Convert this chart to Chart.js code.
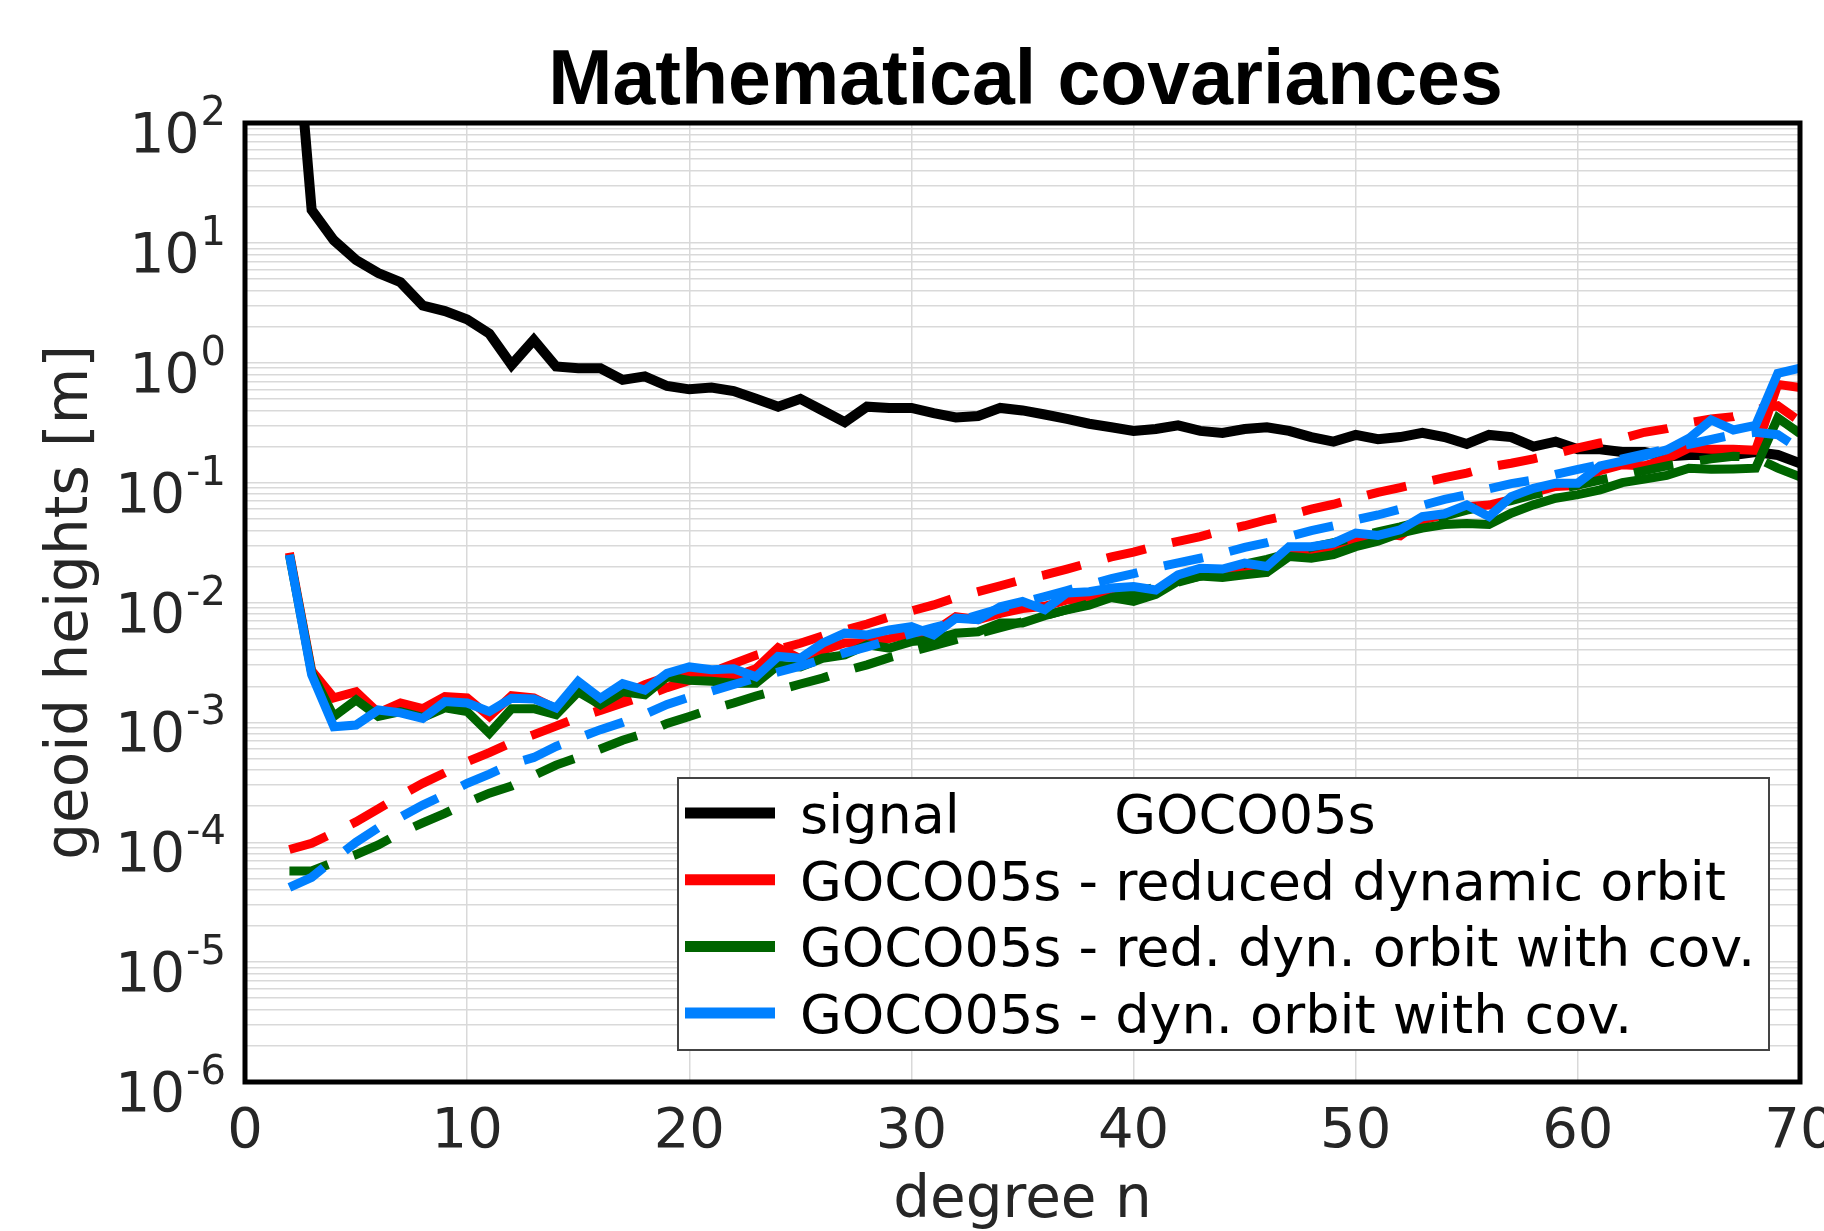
<!DOCTYPE html>
<html>
<head>
<meta charset="utf-8">
<title>Mathematical covariances</title>
<script src="https://cdn.jsdelivr.net/npm/chart.js@4/dist/chart.umd.min.js"></script>
<style>
  html, body { margin: 0; padding: 0; background: #fff; }
  canvas { display: block; }
</style>
</head>
<body>
<canvas id="covChart" width="1824" height="1231"></canvas>
<script>
// degree n = 2..70
const degrees = [2, 3, 4, 5, 6, 7, 8, 9, 10, 11, 12, 13, 14, 15, 16, 17, 18, 19, 20,
  21, 22, 23, 24, 25, 26, 27, 28, 29, 30, 31, 32, 33, 34, 35, 36, 37, 38, 39, 40,
  41, 42, 43, 44, 45, 46, 47, 48, 49, 50, 51, 52, 53, 54, 55, 56, 57, 58, 59, 60,
  61, 62, 63, 64, 65, 66, 67, 68, 69, 70];

const signal = [3000, 18.8, 10.5, 7.2, 5.6, 4.7, 3.0, 2.7, 2.3, 1.75, 0.96, 1.55, 0.93, 0.9, 0.9, 0.72, 0.77, 0.64, 0.60,
  0.62, 0.58, 0.50, 0.43, 0.50, 0.40, 0.32, 0.43, 0.42, 0.42,
  0.38, 0.35, 0.36, 0.42, 0.40, 0.37, 0.34, 0.31, 0.29, 0.27,
  0.28, 0.30, 0.27, 0.26, 0.28, 0.29, 0.27, 0.24, 0.22, 0.25,
  0.23, 0.24, 0.26, 0.24, 0.21, 0.25, 0.24, 0.20, 0.22, 0.19,
  0.19, 0.18, 0.18, 0.165, 0.17, 0.17, 0.17, 0.18, 0.17, 0.145];

const redDyn = [0.026, 0.0027, 0.0016, 0.0018, 0.0012, 0.00145, 0.0013, 0.00164, 0.0016, 0.00112, 0.00167, 0.0016, 0.0013, 0.0020, 0.00136, 0.0017, 0.00206, 0.0024, 0.0026,
  0.0025, 0.0024, 0.0028, 0.0042, 0.0034, 0.0040, 0.0046, 0.0046, 0.0050, 0.0055,
  0.0057, 0.0076, 0.0072, 0.0081, 0.0089, 0.0093, 0.0105, 0.011, 0.012, 0.0123,
  0.0126, 0.0155, 0.017, 0.018, 0.0186, 0.018, 0.0266, 0.0275, 0.028, 0.032,
  0.038, 0.036, 0.049, 0.054, 0.063, 0.065, 0.072, 0.083, 0.093, 0.095,
  0.126, 0.141, 0.138, 0.158, 0.195, 0.19, 0.19, 0.186, 0.66, 0.62];

const redDynCov = [0.025, 0.0026, 0.00112, 0.00154, 0.00112, 0.00123, 0.0011, 0.00132, 0.00123, 0.00081, 0.0013, 0.0013, 0.00116, 0.0018, 0.0014, 0.0018, 0.0017, 0.0024, 0.00224,
  0.0022, 0.00212, 0.00212, 0.0030, 0.0029, 0.00343, 0.00366, 0.00443, 0.00417, 0.00472,
  0.0049, 0.00555, 0.0057, 0.00676, 0.00676, 0.00776, 0.0087, 0.0095, 0.011, 0.0102,
  0.0117, 0.0151, 0.0166, 0.0162, 0.017, 0.0178, 0.0242, 0.0234, 0.0251, 0.0292,
  0.0324, 0.038, 0.0417, 0.0447, 0.0457, 0.0447, 0.0556, 0.0652, 0.0741, 0.0794,
  0.087, 0.1, 0.107, 0.115, 0.132, 0.129, 0.13, 0.132, 0.347, 0.257];

const dynCov = [0.025, 0.0025, 0.00092, 0.00095, 0.00127, 0.0012, 0.00108, 0.00149, 0.00145, 0.00123, 0.00159, 0.00157, 0.00132, 0.0022, 0.00159, 0.0021, 0.00186, 0.00257, 0.0029,
  0.00275, 0.0028, 0.0024, 0.00355, 0.00343, 0.00457, 0.00555, 0.00537, 0.0059, 0.0063,
  0.00537, 0.0074, 0.0072, 0.0092, 0.0102, 0.0087, 0.012, 0.0123, 0.0132, 0.0136,
  0.0127, 0.017, 0.0193, 0.019, 0.0213, 0.020, 0.0292, 0.0292, 0.0313, 0.038,
  0.0363, 0.0404, 0.052, 0.055, 0.065, 0.052, 0.0764, 0.0897, 0.099, 0.099,
  0.138, 0.151, 0.166, 0.1875, 0.234, 0.333, 0.275, 0.30, 0.817, 0.90];

// formal errors (dashed)
const redDynFormal = [8.7e-5, 9.8e-5, 1.2e-4, 1.48e-4, 1.9e-4, 2.45e-4, 3.1e-4, 3.8e-4, 4.7e-4, 5.6e-4, 6.8e-4, 7.9e-4, 9.3e-4, 1.1e-3, 1.26e-3, 1.45e-3, 1.66e-3, 1.95e-3, 2.24e-3,
  2.63e-3, 3.09e-3, 3.63e-3, 4.07e-3, 4.57e-3, 5.25e-3, 5.89e-3, 6.61e-3, 7.59e-3, 8.51e-3,
  9.55e-3, 0.011, 0.0123, 0.0138, 0.0155, 0.017, 0.019, 0.0214, 0.024, 0.0263,
  0.0295, 0.0324, 0.0355, 0.0398, 0.0437, 0.049, 0.0537, 0.060, 0.066, 0.074,
  0.083, 0.091, 0.1, 0.11, 0.12, 0.135, 0.145, 0.158, 0.174, 0.195,
  0.214, 0.234, 0.263, 0.282, 0.316, 0.339, 0.355, 0.407, 0.437, 0.324];

const redDynCovFormal = [5.75e-5, 5.75e-5, 6.8e-5, 7.9e-5, 9.5e-5, 1.2e-4, 1.45e-4, 1.74e-4, 2.14e-4, 2.57e-4, 2.95e-4, 3.6e-4, 4.4e-4, 5.1e-4, 6.0e-4, 7.1e-4, 8.1e-4, 9.8e-4, 1.12e-3,
  1.29e-3, 1.45e-3, 1.66e-3, 1.86e-3, 2.09e-3, 2.34e-3, 2.69e-3, 3.02e-3, 3.47e-3, 3.9e-3,
  4.37e-3, 4.9e-3, 5.5e-3, 6.17e-3, 6.9e-3, 7.76e-3, 8.7e-3, 9.8e-3, 0.011, 0.012,
  0.0135, 0.0148, 0.0166, 0.0186, 0.0209, 0.0229, 0.0257, 0.0288, 0.0316, 0.0347,
  0.0389, 0.0427, 0.0479, 0.0525, 0.0589, 0.0646, 0.0708, 0.0794, 0.087, 0.0955,
  0.105, 0.115, 0.126, 0.138, 0.148, 0.158, 0.166, 0.162, 0.132, 0.112];

const dynCovFormal = [4.2e-5, 5.1e-5, 7.2e-5, 1.0e-4, 1.32e-4, 1.62e-4, 2.04e-4, 2.5e-4, 3.1e-4, 3.7e-4, 4.5e-4, 5.1e-4, 6.3e-4, 7.4e-4, 8.7e-4, 1.0e-3, 1.17e-3, 1.41e-3, 1.62e-3,
  1.82e-3, 2.07e-3, 2.34e-3, 2.63e-3, 2.95e-3, 3.35e-3, 3.8e-3, 4.27e-3, 4.84e-3, 5.5e-3,
  6.17e-3, 6.9e-3, 7.85e-3, 8.9e-3, 0.01, 0.0112, 0.0126, 0.0141, 0.0158, 0.0174,
  0.0195, 0.0214, 0.0234, 0.0257, 0.0288, 0.0316, 0.0355, 0.0398, 0.0437, 0.049,
  0.0537, 0.060, 0.0646, 0.0724, 0.0794, 0.089, 0.098, 0.105, 0.117, 0.129,
  0.141, 0.158, 0.174, 0.19, 0.209, 0.229, 0.251, 0.263, 0.251, 0.19];

const legendLabels = [
  'signal\u00a0\u00a0\u00a0\u00a0\u00a0\u00a0\u00a0\u00a0\u00a0GOCO05s',
  'GOCO05s - reduced dynamic orbit',
  'GOCO05s - red. dyn. orbit with cov.',
  'GOCO05s - dyn. orbit with cov.'
];
const xTicks = [0, 10, 20, 30, 40, 50, 60, 70];
const yTickExponents = [-6, -5, -4, -3, -2, -1, 0, 1, 2];
const titleText = 'Mathematical covariances';
const xTitle = 'degree n';
const yTitle = 'geoid heights [m]';

const RED = '#ff0000', GREEN = '#006400', BLUE = '#0080ff';
const TICK_FONT = '"DejaVu Sans", sans-serif';

// grid positions for the log axis: 1..9 x 10^k
const yGrid = [];
yTickExponents.forEach(e => {
  for (let m = 1; m <= 9; m++) {
    if (e === 2 && m > 1) break;
    yGrid.push(m * Math.pow(10, e));
  }
});

function series(values, color, width, dashed, order, legendIndex) {
  return {
    data: values,
    borderColor: color,
    backgroundColor: color,
    borderWidth: width,
    borderDash: dashed ? [40, 27] : [],
    pointRadius: 0,
    tension: 0,
    fill: false,
    order: order,
    legendIndex: legendIndex
  };
}

const frameAndText = {
  id: 'frameAndText',
  afterDraw(chart) {
    const { ctx, chartArea: a, scales } = chart;
    ctx.save();

    // y tick labels 10^k
    ctx.fillStyle = '#262626';
    ctx.textBaseline = 'alphabetic';
    ctx.textAlign = 'right';
    yTickExponents.forEach(e => {
      const y = scales.y.getPixelForValue(Math.pow(10, e));
      const exp = String(e);
      ctx.font = '40px ' + TICK_FONT;
      ctx.fillText(exp, a.left - 19, y + 2);
      const w = ctx.measureText(exp).width;
      ctx.font = '55px ' + TICK_FONT;
      ctx.fillText('10', a.left - 19 - w - 1, y + 29);
    });

    // legend
    const lx = a.left + 433, ly = a.top + 655, lw = 1091, lh = 272;
    ctx.fillStyle = '#fff';
    ctx.fillRect(lx, ly, lw, lh);
    ctx.strokeStyle = '#444';
    ctx.lineWidth = 2;
    ctx.strokeRect(lx, ly, lw, lh);
    chart.data.datasets
      .filter(d => d.legendIndex !== undefined)
      .sort((p, q) => p.legendIndex - q.legendIndex)
      .forEach(d => {
        const y = ly + 35 + d.legendIndex * 66.7;
        ctx.strokeStyle = d.borderColor;
        ctx.lineWidth = 11;
        ctx.setLineDash([]);
        ctx.beginPath();
        ctx.moveTo(lx + 7, y);
        ctx.lineTo(lx + 97, y);
        ctx.stroke();
        ctx.fillStyle = '#000';
        ctx.font = '54px ' + TICK_FONT;
        ctx.textAlign = 'left';
        ctx.fillText(legendLabels[d.legendIndex], lx + 122, y + 20);
      });

    // frame
    ctx.strokeStyle = '#000';
    ctx.lineWidth = 5;
    ctx.strokeRect(a.left, a.top, a.right - a.left, a.bottom - a.top);

    // title
    ctx.fillStyle = '#000';
    ctx.font = 'bold 77px "Liberation Sans", Arial, sans-serif';
    ctx.textAlign = 'center';
    ctx.fillText(titleText, (a.left + a.right) / 2 + 3, 104);
    ctx.restore();
  }
};

const ctx = document.getElementById('covChart').getContext('2d');
const chart = new Chart(ctx, {
  type: 'line',
  data: {
    labels: degrees,
    datasets: [
      series(signal, '#000000', 10, false, 7, 0),
      series(redDyn, RED, 9, false, 6, 1),
      series(redDynFormal, RED, 9, true, 5),
      series(redDynCov, GREEN, 9, false, 4, 2),
      series(redDynCovFormal, GREEN, 9, true, 3),
      series(dynCov, BLUE, 9, false, 2, 3),
      series(dynCovFormal, BLUE, 9, true, 1)
    ]
  },
  options: {
    responsive: false,
    animation: false,
    devicePixelRatio: 1,
    layout: { padding: { top: 123, right: 24, left: 0, bottom: 0 } },
    plugins: {
      legend: { display: false },
      tooltip: { enabled: false }
    },
    scales: {
      x: {
        type: 'linear',
        min: 0,
        max: 70,
        afterBuildTicks: scale => { scale.ticks = xTicks.map(v => ({ value: v })); },
        afterFit: scale => { scale.height = 149; scale.paddingLeft = 0; scale.paddingRight = 0; },
        grid: { color: '#d9d9d9', lineWidth: 1.5, drawTicks: false },
        border: { display: false },
        ticks: {
          color: '#262626',
          font: { family: TICK_FONT, size: 56, lineHeight: 1 },
          padding: 22,
          maxRotation: 0,
          autoSkip: false
        },
        title: {
          display: true,
          text: xTitle,
          color: '#262626',
          font: { family: TICK_FONT, size: 58, lineHeight: 1 },
          padding: { top: 0, bottom: 0 }
        }
      },
      y: {
        type: 'logarithmic',
        min: 1e-6,
        max: 100,
        afterBuildTicks: scale => { scale.ticks = yGrid.map(v => ({ value: v })); },
        afterFit: scale => { scale.width = 245; scale.paddingTop = 0; scale.paddingBottom = 0; },
        grid: { color: '#d9d9d9', lineWidth: 1.5, drawTicks: false },
        border: { display: false },
        ticks: { display: false },
        title: {
          display: true,
          text: yTitle,
          color: '#262626',
          font: { family: TICK_FONT, size: 58, lineHeight: 1 },
          padding: { top: 43, bottom: 0 }
        }
      }
    }
  },
  plugins: [frameAndText]
});
</script>
</body>
</html>
